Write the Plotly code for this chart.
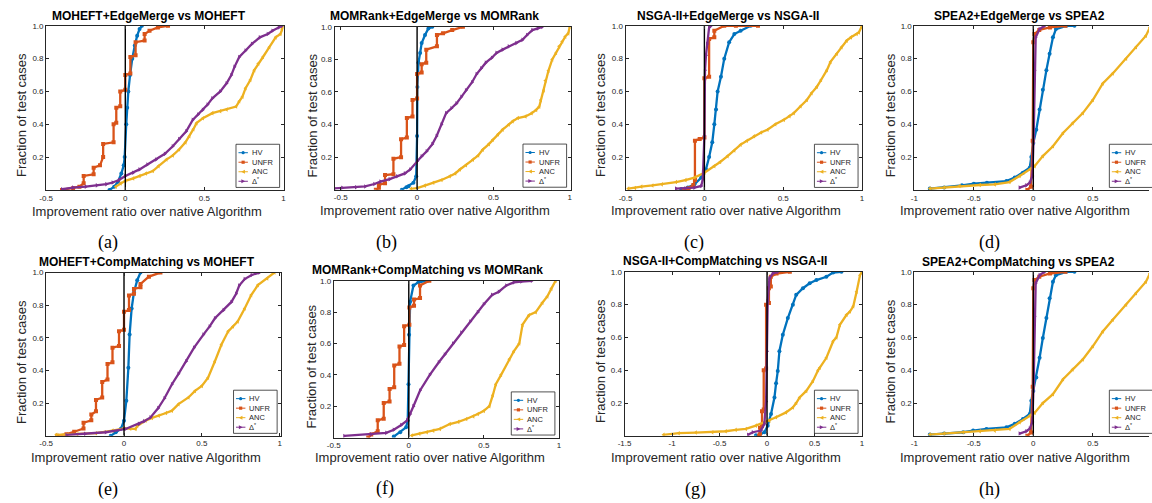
import plotly.graph_objects as go

W, H = 1152, 503

# ---------------- data ----------------
series_names = ["HV", "UNFR", "ANC", "Δ<sup>*</sup>"]
zero_x = [0, 0]
zero_y = [0, 1]

# (a) MOHEFT+EdgeMerge vs MOHEFT
a_hv_x = [-0.10, -0.07, -0.046, -0.025, -0.01, -0.004, 0.006, 0.012, 0.019, 0.03, 0.044, 0.06, 0.075, 0.09, 0.105]
a_hv_y = [0.0, 0.02, 0.05, 0.10, 0.15, 0.20, 0.40, 0.50, 0.60, 0.70, 0.80, 0.88, 0.94, 0.98, 1.0]
a_unfr_x = [-0.40, -0.33, -0.29, -0.263, -0.263, -0.20, -0.20, -0.16, -0.14, -0.14, -0.074, -0.074, -0.057, -0.057, -0.032, -0.032, 0.0, 0.0, 0.032, 0.032, 0.065, 0.065, 0.122, 0.122, 0.153, 0.206, 0.27]
a_unfr_y = [0.0, 0.01, 0.02, 0.04, 0.085, 0.095, 0.135, 0.15, 0.20, 0.28, 0.29, 0.40, 0.41, 0.50, 0.51, 0.60, 0.61, 0.70, 0.71, 0.81, 0.82, 0.90, 0.91, 0.95, 0.97, 0.99, 1.0]
a_anc_x = [-0.06, -0.03, 0.0, 0.05, 0.09, 0.13, 0.174, 0.21, 0.26, 0.30, 0.34, 0.38, 0.405, 0.43, 0.45, 0.49, 0.55, 0.60, 0.64, 0.70, 0.72, 0.74, 0.76, 0.79, 0.815, 0.84, 0.87, 0.91, 0.95, 0.98, 0.99, 1.0]
a_anc_y = [0.02, 0.04, 0.055, 0.07, 0.085, 0.10, 0.115, 0.145, 0.185, 0.21, 0.246, 0.29, 0.327, 0.37, 0.407, 0.437, 0.468, 0.48, 0.49, 0.508, 0.54, 0.568, 0.62, 0.67, 0.73, 0.77, 0.81, 0.87, 0.93, 0.95, 0.98, 1.0]
a_dlt_x = [-0.40, -0.33, -0.25, -0.18, -0.12, -0.08, -0.04, 0.0, 0.05, 0.09, 0.14, 0.195, 0.25, 0.30, 0.34, 0.385, 0.426, 0.46, 0.49, 0.52, 0.55, 0.60, 0.64, 0.67, 0.69, 0.72, 0.76, 0.80, 0.85, 0.90, 0.93, 0.97, 0.99]
a_dlt_y = [0.004, 0.014, 0.02, 0.028, 0.035, 0.045, 0.06, 0.085, 0.105, 0.125, 0.155, 0.185, 0.22, 0.266, 0.31, 0.357, 0.427, 0.46, 0.488, 0.52, 0.558, 0.60, 0.65, 0.70, 0.75, 0.81, 0.85, 0.89, 0.93, 0.95, 0.97, 0.99, 1.0]

# (b) MOMRank+EdgeMerge vs MOMRank
b_hv_x = [-0.10, -0.07, -0.056, -0.024, -0.006, 0.0, 0.002, 0.009, 0.02, 0.03, 0.052, 0.074, 0.10]
b_hv_y = [0.0, 0.015, 0.022, 0.043, 0.083, 0.33, 0.63, 0.78, 0.84, 0.90, 0.95, 0.99, 1.0]
b_unfr_x = [-0.27, -0.25, -0.25, -0.21, -0.21, -0.155, -0.155, -0.105, -0.105, -0.067, -0.067, -0.03, -0.03, 0.0, 0.0, 0.03, 0.03, 0.06, 0.06, 0.13, 0.13, 0.17, 0.23, 0.30]
b_unfr_y = [0.0, 0.01, 0.03, 0.04, 0.09, 0.095, 0.19, 0.20, 0.31, 0.32, 0.44, 0.45, 0.55, 0.56, 0.71, 0.72, 0.77, 0.78, 0.86, 0.88, 0.95, 0.96, 0.98, 1.0]
b_anc_x = [-0.04, 0.0, 0.05, 0.106, 0.16, 0.214, 0.25, 0.28, 0.32, 0.366, 0.40, 0.43, 0.47, 0.496, 0.53, 0.56, 0.60, 0.626, 0.66, 0.71, 0.75, 0.78, 0.80, 0.81, 0.83, 0.84, 0.86, 0.885, 0.91, 0.93, 0.95, 0.97, 0.99, 1.0]
b_anc_y = [0.005, 0.01, 0.025, 0.043, 0.06, 0.083, 0.10, 0.124, 0.15, 0.185, 0.21, 0.246, 0.28, 0.307, 0.34, 0.369, 0.40, 0.42, 0.44, 0.45, 0.47, 0.49, 0.51, 0.55, 0.61, 0.67, 0.73, 0.80, 0.84, 0.88, 0.91, 0.94, 0.96, 1.0]
b_dlt_x = [-0.54, -0.49, -0.40, -0.34, -0.28, -0.24, -0.18, -0.13, -0.08, -0.045, 0.0, 0.03, 0.063, 0.10, 0.128, 0.16, 0.19, 0.225, 0.258, 0.29, 0.32, 0.36, 0.39, 0.42, 0.45, 0.49, 0.52, 0.56, 0.60, 0.65, 0.69, 0.72, 0.755, 0.79, 0.82]
b_dlt_y = [0.008, 0.012, 0.015, 0.02, 0.035, 0.05, 0.065, 0.083, 0.10, 0.124, 0.175, 0.205, 0.236, 0.28, 0.33, 0.40, 0.47, 0.50, 0.53, 0.57, 0.61, 0.66, 0.71, 0.745, 0.78, 0.81, 0.84, 0.86, 0.88, 0.90, 0.92, 0.95, 0.98, 0.99, 1.0]

# (c) NSGA-II+EdgeMerge vs NSGA-II
c_hv_x = [-0.147, -0.105, -0.063, -0.02, -0.004, 0.01, 0.03, 0.05, 0.063, 0.074, 0.084, 0.105, 0.126, 0.157, 0.19, 0.23, 0.294]
c_hv_y = [0.005, 0.014, 0.034, 0.075, 0.115, 0.125, 0.20, 0.29, 0.40, 0.49, 0.60, 0.69, 0.80, 0.90, 0.95, 0.97, 1.0]
c_unfr_x = [-0.13, -0.10, -0.07, -0.06, -0.06, -0.03, 0.0, 0.0, 0.03, 0.03, 0.063, 0.063, 0.126, 0.20, 0.34]
c_unfr_y = [0.0, 0.01, 0.03, 0.06, 0.30, 0.31, 0.32, 0.68, 0.69, 0.92, 0.93, 0.97, 1.0, 1.0, 1.0]
c_anc_x = [-0.483, -0.44, -0.40, -0.33, -0.27, -0.18, -0.12, -0.063, 0.0, 0.063, 0.10, 0.147, 0.19, 0.23, 0.27, 0.315, 0.36, 0.40, 0.45, 0.504, 0.54, 0.567, 0.61, 0.65, 0.68, 0.714, 0.74, 0.777, 0.80, 0.84, 0.87, 0.903, 0.93, 0.966, 0.98, 1.0]
c_anc_y = [0.008, 0.012, 0.02, 0.027, 0.034, 0.048, 0.06, 0.075, 0.105, 0.145, 0.17, 0.206, 0.24, 0.276, 0.30, 0.327, 0.35, 0.367, 0.40, 0.427, 0.45, 0.468, 0.51, 0.548, 0.59, 0.629, 0.67, 0.73, 0.78, 0.83, 0.87, 0.91, 0.93, 0.95, 0.96, 1.0]
c_dlt_x = [-0.18, -0.12, -0.063, -0.02, -0.01, 0.0, 0.004, 0.010, 0.017, 0.03, 0.042]
c_dlt_y = [0.008, 0.01, 0.014, 0.024, 0.065, 0.33, 0.73, 0.82, 0.89, 0.99, 1.0]

# (d) SPEA2+EdgeMerge vs SPEA2
d_hv_x = [-0.87, -0.75, -0.60, -0.50, -0.39, -0.226, -0.156, -0.087, -0.03, -0.017, 0.0, 0.025, 0.053, 0.08, 0.11, 0.137, 0.165, 0.19, 0.277, 0.346]
d_hv_y = [0.008, 0.015, 0.028, 0.038, 0.044, 0.054, 0.075, 0.105, 0.135, 0.20, 0.286, 0.367, 0.49, 0.61, 0.73, 0.83, 0.93, 0.98, 1.0, 1.0]
d_unfr_x = [-0.05, -0.02, -0.005, 0.0, 0.01, 0.05, 0.14, 0.27]
d_unfr_y = [0.0, 0.02, 0.30, 0.90, 0.95, 0.975, 0.99, 1.0]
d_anc_x = [-0.87, -0.75, -0.62, -0.45, -0.324, -0.2, -0.115, -0.03, 0.011, 0.08, 0.165, 0.25, 0.33, 0.416, 0.5, 0.584, 0.668, 0.78, 0.863, 0.947, 0.98, 1.0]
d_anc_y = [0.008, 0.015, 0.024, 0.03, 0.034, 0.048, 0.085, 0.125, 0.145, 0.206, 0.266, 0.347, 0.407, 0.468, 0.548, 0.649, 0.71, 0.80, 0.87, 0.94, 0.99, 1.0]
d_dlt_x = [-0.115, -0.059, -0.03, -0.008, 0.003, 0.011, 0.02, 0.053, 0.095]
d_dlt_y = [0.014, 0.028, 0.044, 0.085, 0.327, 0.73, 0.93, 0.98, 1.0]

# (e) MOHEFT+CompMatching vs MOHEFT
e_hv_x = [-0.085, -0.053, -0.02, 0.0, 0.015, 0.028, 0.036, 0.049, 0.064, 0.085, 0.106]
e_hv_y = [0.0, 0.022, 0.043, 0.093, 0.215, 0.417, 0.62, 0.78, 0.88, 0.953, 1.0]
e_unfr_x = [-0.43, -0.37, -0.32, -0.26, -0.26, -0.21, -0.21, -0.18, -0.18, -0.14, -0.14, -0.106, -0.106, -0.074, -0.074, -0.032, -0.032, 0.0, 0.0, 0.032, 0.032, 0.064, 0.064, 0.106, 0.106, 0.16, 0.234]
e_unfr_y = [0.0, 0.01, 0.025, 0.045, 0.08, 0.095, 0.13, 0.15, 0.22, 0.235, 0.33, 0.345, 0.44, 0.45, 0.54, 0.55, 0.64, 0.65, 0.76, 0.77, 0.86, 0.87, 0.90, 0.91, 0.93, 0.975, 1.0]
e_anc_x = [-0.435, -0.3, -0.18, -0.074, 0.0, 0.04, 0.074, 0.085, 0.138, 0.18, 0.223, 0.27, 0.308, 0.35, 0.414, 0.456, 0.5, 0.54, 0.584, 0.626, 0.669, 0.70, 0.73, 0.775, 0.817, 0.86, 0.92, 0.966]
e_anc_y = [0.006, 0.01, 0.016, 0.032, 0.046, 0.044, 0.042, 0.06, 0.093, 0.11, 0.123, 0.14, 0.154, 0.194, 0.235, 0.275, 0.306, 0.356, 0.457, 0.559, 0.64, 0.67, 0.70, 0.78, 0.862, 0.923, 0.964, 1.0]
e_dlt_x = [-0.37, -0.25, -0.117, 0.01, 0.096, 0.13, 0.17, 0.22, 0.26, 0.308, 0.35, 0.40, 0.45, 0.51, 0.55, 0.584, 0.64, 0.69, 0.72, 0.74, 0.775, 0.82, 0.87]
e_dlt_y = [0.005, 0.012, 0.022, 0.042, 0.073, 0.09, 0.113, 0.17, 0.23, 0.316, 0.38, 0.457, 0.54, 0.62, 0.67, 0.72, 0.77, 0.82, 0.87, 0.92, 0.96, 0.985, 1.0]

# (f) MOMRank+CompMatching vs MOMRank
f_hv_x = [-0.10, -0.057, -0.018, -0.007, -0.002, 0.002, 0.009, 0.031, 0.064, 0.12]
f_hv_y = [0.006, 0.034, 0.065, 0.108, 0.34, 0.656, 0.867, 0.97, 0.99, 1.0]
f_unfr_x = [-0.27, -0.25, -0.207, -0.207, -0.167, -0.167, -0.128, -0.128, -0.097, -0.097, -0.062, -0.062, -0.031, -0.031, 0.004, 0.004, 0.035, 0.035, 0.075, 0.075, 0.137]
f_unfr_y = [0.0, 0.02, 0.04, 0.11, 0.12, 0.22, 0.23, 0.31, 0.32, 0.46, 0.47, 0.58, 0.59, 0.71, 0.72, 0.83, 0.84, 0.88, 0.89, 0.97, 1.0]
f_anc_x = [0.02, 0.07, 0.12, 0.163, 0.207, 0.273, 0.33, 0.383, 0.43, 0.46, 0.50, 0.537, 0.56, 0.58, 0.615, 0.67, 0.70, 0.736, 0.758, 0.80, 0.846, 0.89, 0.923, 0.95, 0.978]
f_anc_y = [0.013, 0.024, 0.034, 0.044, 0.055, 0.086, 0.10, 0.118, 0.135, 0.15, 0.17, 0.20, 0.27, 0.34, 0.40, 0.50, 0.55, 0.60, 0.72, 0.78, 0.80, 0.86, 0.90, 0.95, 1.0]
f_dlt_x = [-0.43, -0.25, -0.15, -0.1, -0.05, -0.01, 0.01, 0.031, 0.075, 0.14, 0.2, 0.24, 0.295, 0.35, 0.41, 0.46, 0.5, 0.555, 0.6, 0.65, 0.7, 0.75, 0.82]
f_dlt_y = [0.01, 0.02, 0.03, 0.05, 0.08, 0.11, 0.15, 0.20, 0.30, 0.40, 0.48, 0.53, 0.60, 0.67, 0.74, 0.80, 0.85, 0.91, 0.93, 0.97, 0.99, 0.995, 1.0]

# (g) NSGA-II+CompMatching vs NSGA-II
g_hv_x = [-0.117, -0.08, -0.028, 0.007, 0.042, 0.078, 0.095, 0.113, 0.13, 0.166, 0.219, 0.272, 0.307, 0.378, 0.449, 0.52, 0.625, 0.696, 0.784]
g_hv_y = [0.004, 0.006, 0.022, 0.062, 0.133, 0.234, 0.32, 0.395, 0.516, 0.617, 0.718, 0.80, 0.86, 0.90, 0.93, 0.95, 0.97, 0.996, 1.0]
g_unfr_x = [-0.085, -0.074, -0.074, -0.053, -0.053, -0.035, -0.035, -0.01, -0.01, 0.02, 0.02, 0.04, 0.04, 0.10, 0.24]
g_unfr_y = [0.0, 0.01, 0.05, 0.06, 0.15, 0.16, 0.40, 0.41, 0.80, 0.81, 0.90, 0.91, 0.97, 0.99, 1.0]
g_anc_x = [-1.09, -0.93, -0.75, -0.576, -0.435, -0.33, -0.223, -0.117, -0.028, 0.025, 0.095, 0.2, 0.272, 0.307, 0.343, 0.413, 0.484, 0.537, 0.555, 0.625, 0.696, 0.73, 0.767, 0.837, 0.873, 0.908, 0.943, 0.979, 1.0]
g_anc_y = [0.006, 0.016, 0.02, 0.022, 0.028, 0.036, 0.042, 0.062, 0.083, 0.093, 0.113, 0.143, 0.173, 0.2, 0.234, 0.274, 0.335, 0.40, 0.415, 0.476, 0.577, 0.60, 0.677, 0.738, 0.758, 0.79, 0.879, 0.98, 1.0]
g_dlt_x = [-0.2, -0.15, -0.064, -0.028, -0.01, 0.0, 0.007, 0.025, 0.06, 0.113]
g_dlt_y = [0.006, 0.022, 0.032, 0.073, 0.21, 0.516, 0.82, 0.96, 0.99, 1.0]

# (h) SPEA2+CompMatching vs SPEA2
h_hv_x = [-0.87, -0.75, -0.59, -0.506, -0.394, -0.226, -0.156, -0.087, -0.03, -0.017, 0.0, 0.025, 0.053, 0.08, 0.11, 0.137, 0.165, 0.19, 0.277, 0.346]
h_hv_y = [0.008, 0.014, 0.022, 0.032, 0.042, 0.052, 0.073, 0.103, 0.133, 0.214, 0.274, 0.355, 0.476, 0.597, 0.718, 0.839, 0.94, 0.98, 1.0, 1.0]
h_unfr_x = [-0.05, -0.02, -0.005, 0.0, 0.01, 0.05, 0.14, 0.27]
h_unfr_y = [0.0, 0.02, 0.30, 0.90, 0.95, 0.97, 0.99, 1.0]
h_anc_x = [-0.87, -0.75, -0.59, -0.45, -0.324, -0.2, -0.115, -0.03, 0.011, 0.08, 0.165, 0.25, 0.33, 0.416, 0.5, 0.584, 0.668, 0.78, 0.863, 0.947, 0.98, 1.0]
h_anc_y = [0.008, 0.014, 0.022, 0.028, 0.032, 0.042, 0.083, 0.123, 0.14, 0.2, 0.254, 0.345, 0.405, 0.466, 0.546, 0.637, 0.708, 0.80, 0.87, 0.94, 0.99, 1.0]
h_dlt_x = [-0.115, -0.059, -0.03, -0.008, 0.003, 0.011, 0.02, 0.053, 0.095]
h_dlt_y = [0.014, 0.028, 0.044, 0.085, 0.327, 0.73, 0.93, 0.98, 1.0]

titles = ["MOHEFT+EdgeMerge vs MOHEFT", "MOMRank+EdgeMerge vs MOMRank",
          "NSGA-II+EdgeMerge vs NSGA-II", "SPEA2+EdgeMerge vs SPEA2",
          "MOHEFT+CompMatching vs MOHEFT", "MOMRank+CompMatching vs MOMRank",
          "NSGA-II+CompMatching vs NSGA-II", "SPEA2+CompMatching vs SPEA2"]
captions = ["(a)", "(b)", "(c)", "(d)", "(e)", "(f)", "(g)", "(h)"]
xlabel = "Improvement ratio over native Algorithm"
ylabel = "Fraction of test cases"
y_ticks = [0.2, 0.4, 0.6, 0.8, 1.0]
y_ticktext = ["0.2", "0.4", "0.6", "0.8", "1.0"]

panel_data = [
    (a_hv_x, a_hv_y, a_unfr_x, a_unfr_y, a_anc_x, a_anc_y, a_dlt_x, a_dlt_y),
    (b_hv_x, b_hv_y, b_unfr_x, b_unfr_y, b_anc_x, b_anc_y, b_dlt_x, b_dlt_y),
    (c_hv_x, c_hv_y, c_unfr_x, c_unfr_y, c_anc_x, c_anc_y, c_dlt_x, c_dlt_y),
    (d_hv_x, d_hv_y, d_unfr_x, d_unfr_y, d_anc_x, d_anc_y, d_dlt_x, d_dlt_y),
    (e_hv_x, e_hv_y, e_unfr_x, e_unfr_y, e_anc_x, e_anc_y, e_dlt_x, e_dlt_y),
    (f_hv_x, f_hv_y, f_unfr_x, f_unfr_y, f_anc_x, f_anc_y, f_dlt_x, f_dlt_y),
    (g_hv_x, g_hv_y, g_unfr_x, g_unfr_y, g_anc_x, g_anc_y, g_dlt_x, g_dlt_y),
    (h_hv_x, h_hv_y, h_unfr_x, h_unfr_y, h_anc_x, h_anc_y, h_dlt_x, h_dlt_y),
]

# ---------------- layout / styles ----------------
COLORS = ["#0072BD", "#D95319", "#EDB120", "#7E2F8E"]
SYMBOLS = ["circle", "square", "triangle-left", "triangle-right"]
AX = "#262626"
SANS = "Liberation Sans, Arial, sans-serif"
SERIF = "Liberation Serif, Times New Roman, serif"

T1 = [-0.5, 0, 0.5, 1]
T2 = [-1, -0.5, 0, 0.5]
T3 = [-1.5, -1, -0.5, 0, 0.5, 1]
panels = [
    dict(l=39.5, r=279, t=22, b=187.4, xr=[-0.5, 1.0], xt=T1, tc=(143, 12), xc=(141, 209), yc=(14, 112), cc=(102, 240), rf=True),
    dict(l=330.5, r=568.5, t=23, b=187.2, xr=[-0.54, 1.005], xt=T1, tc=(431, 12.5), xc=(432, 208.5), yc=(308, 112), cc=(383, 240), rf=True),
    dict(l=624, r=862.5, t=22, b=187.4, xr=[-0.5, 1.0], xt=T1, tc=(727, 12), xc=(725, 208.5), yc=(598, 112), cc=(693, 240), rf=True),
    dict(l=915.3, r=1152, t=22, b=187.4, xr=[-1.0, 0.9725], xt=T2, tc=(1021.5, 12), xc=(1017, 208.5), yc=(891, 112), cc=(991, 240), rf=False),
    dict(l=39.5, r=276.5, t=270.7, b=435.3, xr=[-0.5, 1.009], xt=T1, tc=(141, 260), xc=(140, 457), yc=(14, 361), cc=(102, 489), rf=True),
    dict(l=329.6, r=556.7, t=279, b=437, xr=[-0.5, 1.0], xt=T1, tc=(424, 268.5), xc=(427, 457), yc=(307, 365), cc=(381, 488), rf=True),
    dict(l=623, r=862.5, t=270, b=435.3, xr=[-1.5, 1.0], xt=T3, tc=(724, 259.5), xc=(725, 457), yc=(598, 360), cc=(695, 489), rf=True),
    dict(l=915.3, r=1152, t=270, b=435.3, xr=[-1.0, 0.9725], xt=T2, tc=(1020, 260), xc=(1017, 457), yc=(891, 360), cc=(991, 489), rf=False),
]
legend_right = [275, 564.5, 858.5, 1156, 272.5, 552.7, 858.5, 1156]


def px(x):
    return x / W


def py(y):
    return 1 - y / H


def fmt(v):
    return "%g" % v


fig = go.Figure()
shapes = []
annotations = []
layout = dict(width=W, height=H, margin=dict(l=0, r=0, t=0, b=0), autosize=False,
              paper_bgcolor="white", plot_bgcolor="white", showlegend=False)

for i, (p, dat) in enumerate(zip(panels, panel_data)):
    n = i + 1
    xa = "x" if n == 1 else "x%d" % n
    ya = "y" if n == 1 else "y%d" % n
    xkey = "xaxis" if n == 1 else "xaxis%d" % n
    ykey = "yaxis" if n == 1 else "yaxis%d" % n

    for k in range(4):
        fig.add_trace(go.Scatter(
            x=dat[2 * k], y=dat[2 * k + 1], xaxis=xa, yaxis=ya,
            mode="lines+markers", name=series_names[k],
            line=dict(color=COLORS[k], width=2.3),
            marker=dict(symbol=SYMBOLS[k], size=4, color=COLORS[k], line=dict(width=0)),
            hoverinfo="x+y+name"))
    fig.add_trace(go.Scatter(x=zero_x, y=zero_y, xaxis=xa, yaxis=ya, mode="lines",
                             line=dict(color="black", width=1.4), hoverinfo="skip"))

    layout[xkey] = dict(domain=[px(p["l"]), px(p["r"])], range=p["xr"], anchor=ya,
                        showgrid=False, zeroline=False, showline=True, linecolor=AX, linewidth=1,
                        mirror="ticks", ticks="inside", ticklen=3, tickcolor=AX,
                        tickvals=p["xt"], ticktext=[fmt(v) for v in p["xt"]],
                        tickfont=dict(family=SANS, size=8, color=AX), fixedrange=True)
    layout[ykey] = dict(domain=[py(p["b"]), py(p["t"])], range=[0, 1], anchor=xa,
                        showgrid=False, zeroline=False, showline=True, linecolor=AX, linewidth=1,
                        mirror="ticks" if p["rf"] else False, ticks="inside", ticklen=3, tickcolor=AX,
                        tickvals=y_ticks, ticktext=y_ticktext,
                        tickfont=dict(family=SANS, size=8, color=AX), fixedrange=True)

    annotations.append(dict(text="<b>%s</b>" % titles[i], x=px(p["tc"][0]), y=py(p["tc"][1]),
                            xref="paper", yref="paper", showarrow=False, xanchor="center", yanchor="middle",
                            font=dict(family=SANS, size=12, color="black")))
    annotations.append(dict(text=xlabel, x=px(p["xc"][0]), y=py(p["xc"][1]), xref="paper", yref="paper",
                            showarrow=False, xanchor="center", yanchor="middle",
                            font=dict(family=SANS, size=13, color=AX)))
    annotations.append(dict(text=ylabel, x=px(p["yc"][0]), y=py(p["yc"][1]), xref="paper", yref="paper",
                            showarrow=False, xanchor="center", yanchor="middle", textangle=-90,
                            font=dict(family=SANS, size=13, color=AX)))
    annotations.append(dict(text=captions[i], x=px(p["cc"][0]), y=py(p["cc"][1]), xref="paper", yref="paper",
                            showarrow=False, xanchor="center", yanchor="middle",
                            font=dict(family=SERIF, size=18, color="black")))

    # compact legend box, drawn by hand to match the original's size
    bx1 = legend_right[i]
    bx0 = bx1 - 44
    by1 = p["b"] - 2.5
    by0 = by1 - 43.5
    shapes.append(dict(type="rect", xref="paper", yref="paper", x0=px(bx0), x1=px(bx1),
                       y0=py(by1), y1=py(by0), line=dict(color=AX, width=0.8), fillcolor="white", layer="above"))
    for k in range(4):
        yy = by0 + 8.5 + k * 9.6
        shapes.append(dict(type="line", xref="paper", yref="paper", x0=px(bx0 + 2.5), x1=px(bx0 + 12),
                           y0=py(yy), y1=py(yy), line=dict(color=COLORS[k], width=1), layer="above"))
        cx = bx0 + 7.2
        r = 1.6
        if k == 0:
            shapes.append(dict(type="circle", xref="paper", yref="paper", x0=px(cx - r), x1=px(cx + r),
                               y0=py(yy + r), y1=py(yy - r), line=dict(width=0), fillcolor=COLORS[k], layer="above"))
        elif k == 1:
            shapes.append(dict(type="rect", xref="paper", yref="paper", x0=px(cx - r), x1=px(cx + r),
                               y0=py(yy + r), y1=py(yy - r), line=dict(width=0), fillcolor=COLORS[k], layer="above"))
        elif k == 2:
            path = "M %f %f L %f %f L %f %f Z" % (px(cx - 2), py(yy), px(cx + 1.8), py(yy - 2), px(cx + 1.8), py(yy + 2))
            shapes.append(dict(type="path", xref="paper", yref="paper", path=path, line=dict(width=0),
                               fillcolor=COLORS[k], layer="above"))
        else:
            path = "M %f %f L %f %f L %f %f Z" % (px(cx + 2), py(yy), px(cx - 1.8), py(yy - 2), px(cx - 1.8), py(yy + 2))
            shapes.append(dict(type="path", xref="paper", yref="paper", path=path, line=dict(width=0),
                               fillcolor=COLORS[k], layer="above"))
        annotations.append(dict(text=series_names[k], x=px(bx0 + 14), y=py(yy), xref="paper", yref="paper",
                                showarrow=False, xanchor="left", yanchor="middle",
                                font=dict(family=SANS, size=7.5, color=AX)))

layout["shapes"] = shapes
layout["annotations"] = annotations
fig.update_layout(**layout)
fig.write_html("out.html", config={"displayModeBar": False},
               post_script="document.body.style.margin='0';document.body.style.padding='0';document.body.style.overflow='hidden';")
